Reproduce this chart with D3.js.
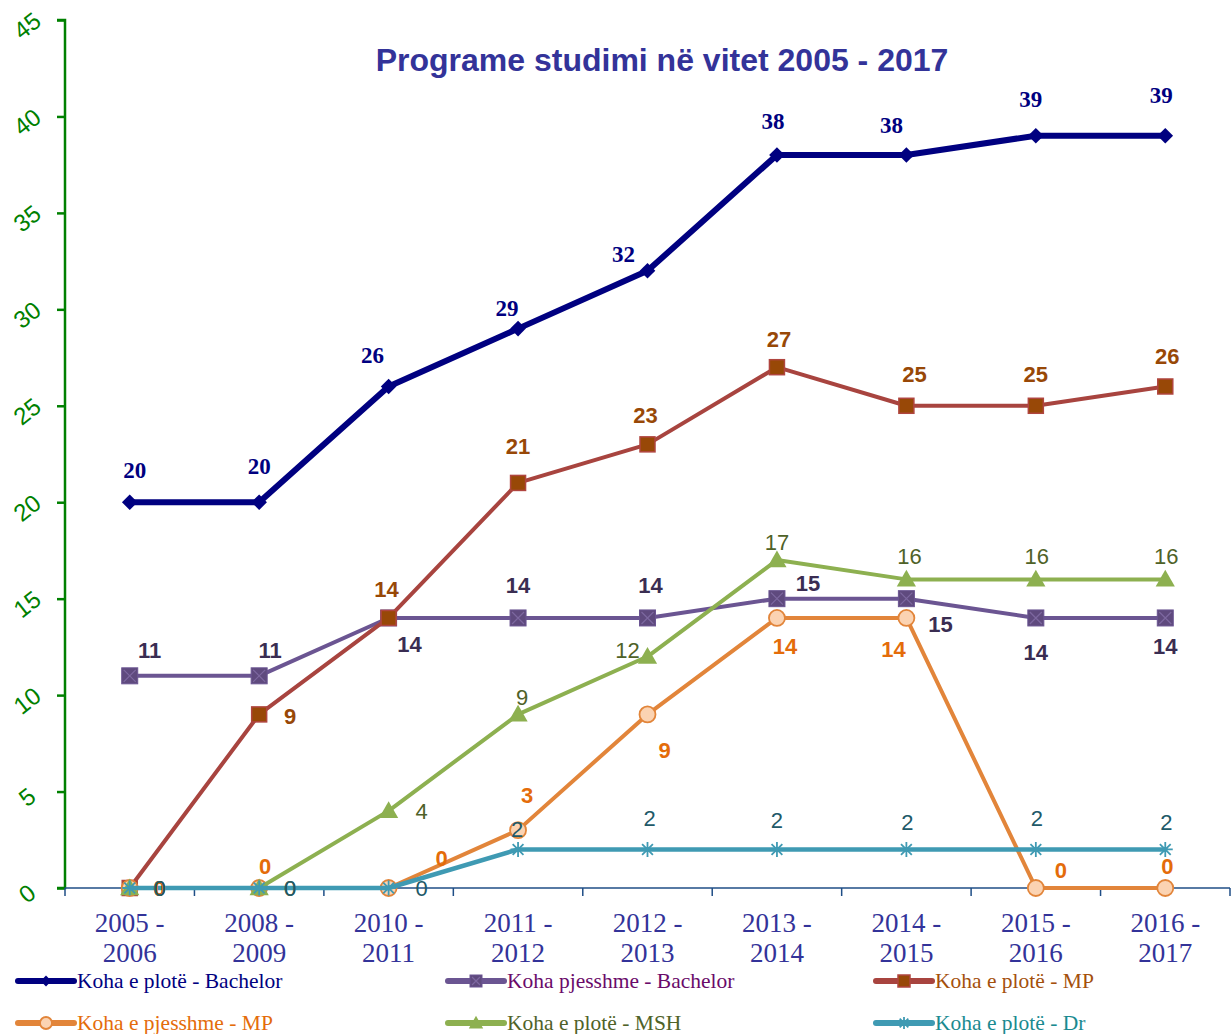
<!DOCTYPE html>
<html>
<head>
<meta charset="utf-8">
<script src="https://cdn.jsdelivr.net/npm/d3@7"></script>
<style>
html,body{margin:0;padding:0;background:#fff;}
svg{display:block;}
</style>
</head>
<body>
<svg id="chart" width="1232" height="1034"></svg>
<script>
// ---------- DATA ----------
const categories = [["2005 -","2006"],["2008 -","2009"],["2010 -","2011"],["2011 -","2012"],["2012 -","2013"],["2013 -","2014"],["2014 -","2015"],["2015 -","2016"],["2016 -","2017"]];
const yTicks = [0,5,10,15,20,25,30,35,40,45];
const seriesNames = ["Koha e plotë - Bachelor","Koha pjesshme - Bachelor","Koha e plotë - MP","Koha e pjesshme - MP","Koha e plotë - MSH","Koha e plotë - Dr"];
const bachelorFull = [20,20,26,29,32,38,38,39,39];
const bachelorPart = [11,11,14,14,14,15,15,14,14];
const mpFull       = [0,9,14,21,23,27,25,25,26];
const mpPart       = [0,0,0,3,9,14,14,0,0];
const mshFull      = [0,0,4,9,12,17,16,16,16];
const drFull       = [0,0,0,2,2,2,2,2,2];
const titleText = "Programe studimi në vitet 2005 - 2017";

// ---------- label placement (pixel offsets from point) ----------
const labelOffsets = [
  [[5,-32],[0,-36],[-16,-31],[-11,-20],[-24,-16],[-4,-34],[-15,-30],[-5,-36],[-4,-40]],
  [[20,-25],[11,-25],[21,27],[0,-32],[3,-32],[31,-15],[34,26],[0,35],[0,29]],
  [[30,0],[31,2],[-2,-28],[0,-36],[-2,-29],[2,-28],[8,-31],[0,-31],[2,-30]],
  [[30,0],[6,-22],[53,-30],[9,-35],[17,36],[8,29],[-13,32],[25,-18],[2,-22]],
  [[30,0],[31,0],[33,1],[4,-17],[-20,-6],[0,-18],[3,-23],[1,-23],[1,-23]],
  [[30,0],[31,0],[33,0],[-1,-20],[2,-31],[0,-29],[1,-27],[1,-31],[1,-27]]
];

const styles = [
  {line:"#000080", w:6, marker:"diamond", fill:"#000080", stroke:"#000080", lab:"#000080", font:"'Liberation Serif', 'Times New Roman', serif", weight:"bold", size:23, legendText:"#000080"},
  {line:"#6b5592", w:4, marker:"squareX", fill:"#5f4a7e", stroke:"#6b5592", lab:"#3a2d52", font:"'Liberation Sans', Arial, sans-serif", weight:"bold", size:22, legendText:"#6a0a6a"},
  {line:"#a8443f", w:4, marker:"square", fill:"#984807", stroke:"#b0453f", lab:"#984807", font:"'Liberation Sans', Arial, sans-serif", weight:"bold", size:22, legendText:"#a4500c"},
  {line:"#e2853a", w:4, marker:"circle", fill:"#fbd3b2", stroke:"#e2853a", lab:"#e46c0a", font:"'Liberation Sans', Arial, sans-serif", weight:"bold", size:22, legendText:"#e46c0a"},
  {line:"#8db050", w:4, marker:"triangle", fill:"#8db050", stroke:"#8db050", lab:"#4f6228", font:"'Liberation Sans', Arial, sans-serif", weight:"normal", size:22, legendText:"#4f6228"},
  {line:"#3f9ab3", w:4.5, marker:"asterisk", fill:"none", stroke:"#3f9ab3", lab:"#215968", font:"'Liberation Sans', Arial, sans-serif", weight:"normal", size:22, legendText:"#1a8a90"}
];

const allSeries = [bachelorFull, bachelorPart, mpFull, mpPart, mshFull, drFull];

// ---------- SCALES ----------
const svg = d3.select("#chart");
const x = d3.scalePoint().domain(d3.range(categories.length)).range([65, 1230]).padding(0.5);
const y = d3.scaleLinear().domain([0,45]).range([888, 20]);

// Title
svg.append("text").attr("x", 662).attr("y", 71).attr("text-anchor","middle")
  .style("font-family","'Liberation Sans', Arial, sans-serif").style("font-weight","bold")
  .style("font-size","32px").style("fill","#333399").text(titleText);

// Y axis
const yAxis = d3.axisLeft(y).tickValues(yTicks).tickSize(8).tickFormat(d3.format("d"));
const yg = svg.append("g").attr("transform","translate(65,0)").call(yAxis);
yg.select(".domain").attr("stroke","#008000").attr("stroke-width",2.5).attr("d","M-8,20H0V888H-8");
yg.selectAll(".tick line").attr("stroke","#008000").attr("stroke-width",2.5);
yg.selectAll(".tick text")
  .attr("x",0).attr("dy",null).attr("text-anchor","middle")
  .attr("transform","translate(-38,5) rotate(-38)")
  .style("font-family","'Liberation Sans', Arial, sans-serif").style("font-size","24px")
  .style("fill","#008000").attr("dominant-baseline","central");

// X axis
const bandStep = x.step();
const boundaries = d3.range(categories.length+1).map(i => 65 + i*bandStep);
const xg = svg.append("g");
xg.append("line").attr("x1",65).attr("x2",1230).attr("y1",888).attr("y2",888).attr("stroke","#1f4e86").attr("stroke-width",1.5);
xg.selectAll("line.tk").data(boundaries).enter().append("line").attr("class","tk")
  .attr("x1",d=>d).attr("x2",d=>d).attr("y1",888).attr("y2",896).attr("stroke","#1f4e86").attr("stroke-width",1.5);
const xl = xg.selectAll("text.xl").data(categories).enter().append("text").attr("class","xl")
  .attr("text-anchor","middle")
  .style("font-family","'Liberation Serif', 'Times New Roman', serif").style("font-size","27px").style("fill","#333399");
xl.append("tspan").attr("x",(d,i)=>x(i)).attr("y",932).text(d=>d[0]);
xl.append("tspan").attr("x",(d,i)=>x(i)).attr("y",962).text(d=>d[1]);

// Marker drawing
function drawMarker(g, type, st, size){
  const s = size;
  if(type==="diamond"){
    g.append("path").attr("d",`M0,${-s*0.6}L${s*0.6},0L0,${s*0.6}L${-s*0.6},0Z`).attr("fill",st.fill);
  } else if(type==="squareX"){
    g.append("rect").attr("x",-s/2).attr("y",-s/2).attr("width",s).attr("height",s).attr("fill",st.fill).attr("stroke",st.stroke).attr("stroke-width",1);
    g.append("path").attr("d",`M${-s/2+2},${-s/2+2}L${s/2-2},${s/2-2}M${s/2-2},${-s/2+2}L${-s/2+2},${s/2-2}`).attr("stroke","#7d68a0").attr("stroke-width",1.2);
  } else if(type==="square"){
    g.append("rect").attr("x",-s/2).attr("y",-s/2).attr("width",s).attr("height",s).attr("fill",st.fill).attr("stroke",st.stroke).attr("stroke-width",1.5);
  } else if(type==="circle"){
    g.append("circle").attr("r",s/2).attr("fill",st.fill).attr("stroke",st.stroke).attr("stroke-width",1.8);
  } else if(type==="triangle"){
    g.append("path").attr("d",`M0,${-s*0.6}L${s*0.6},${s*0.45}L${-s*0.6},${s*0.45}Z`).attr("fill",st.fill);
  } else if(type==="asterisk"){
    const r = s/2;
    let d = `M${-r},0L${r},0M0,${-r}L0,${r}`;
    const a = r*0.72;
    d += `M${-a},${-a}L${a},${a}M${a},${-a}L${-a},${a}`;
    g.append("path").attr("d",d).attr("stroke",st.stroke).attr("stroke-width",1.8).attr("fill","none");
  }
}
const markerSizes = [13,16,15,16,16,15];

// Lines & markers
const lineGen = d3.line().x((d,i)=>x(i)).y(d=>y(d));
allSeries.forEach((data, si) => {
  const st = styles[si];
  const g = svg.append("g");
  g.append("path").datum(data).attr("d", lineGen).attr("fill","none")
    .attr("stroke", st.line).attr("stroke-width", st.w).attr("stroke-linejoin","round");
  data.forEach((v,i) => {
    const mg = g.append("g").attr("transform",`translate(${x(i)},${y(v)})`);
    drawMarker(mg, st.marker, st, markerSizes[si]);
  });
});

// Data labels
allSeries.forEach((data, si) => {
  const st = styles[si];
  svg.append("g").selectAll("text").data(data).enter().append("text")
    .attr("x",(d,i)=>x(i)+labelOffsets[si][i][0])
    .attr("y",(d,i)=>y(d)+labelOffsets[si][i][1])
    .attr("text-anchor","middle").attr("dominant-baseline","central")
    .style("font-family",st.font).style("font-weight",st.weight).style("font-size",st.size+"px")
    .style("fill",st.lab).text(d=>d);
});

// Legend
const legendPos = [[18,981],[448,981],[876,981],[18,1023],[448,1023],[876,1023]];
seriesNames.forEach((name, si) => {
  const st = styles[si];
  const [lx, ly] = legendPos[si];
  const g = svg.append("g");
  g.append("line").attr("x1",lx).attr("x2",lx+56).attr("y1",ly).attr("y2",ly)
    .attr("stroke",st.line).attr("stroke-width",6).attr("stroke-linecap","round");
  const mg = g.append("g").attr("transform",`translate(${lx+28},${ly})`);
  drawMarker(mg, st.marker, st, si===0?9:12);
  g.append("text").attr("x",lx+59).attr("y",ly).attr("dominant-baseline","central")
    .style("font-family","'Liberation Serif', 'Times New Roman', serif").style("font-size","21.5px")
    .style("fill",st.legendText).text(name);
});
</script>
</body>
</html>
